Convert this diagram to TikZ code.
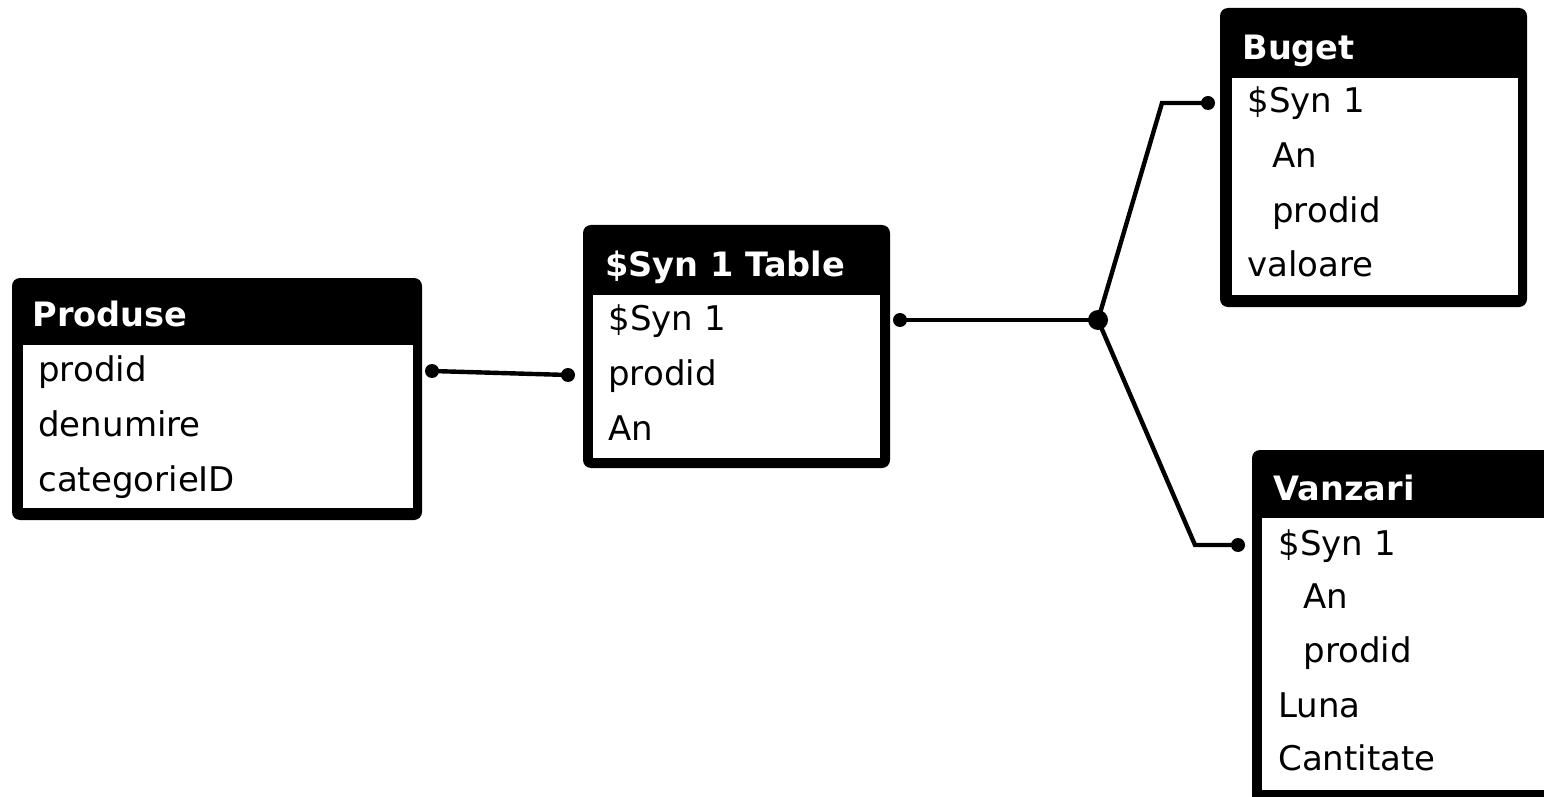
\documentclass[tikz,border=0pt]{standalone}
\usepackage{fontspec}
\setmainfont{DejaVu Sans}
\begin{document}
\begin{tikzpicture}[x=0.5pt,y=-0.5pt,
  tbl/.style={fill=black, rounded corners=4pt},
  inbox/.style={fill=white},
  hdr/.style={anchor=base west, text=white, font=\fontsize{16.8}{16.8}\selectfont\bfseries, inner sep=0pt},
  row/.style={anchor=base west, font=\fontsize{17}{17}\selectfont, inner sep=0pt},
  conn/.style={line width=2.2pt},
  dotc/.style={circle, fill=black, inner sep=0pt, minimum size=7pt},
  junc/.style={circle, fill=black, inner sep=0pt, minimum size=10pt}]
\clip (0,0) rectangle (1544,797);
\fill[white] (0,0) rectangle (1544,797);
% Produse
\fill[tbl] (12,278) rectangle (422,520);
\fill[inbox] (23,345) rectangle (413,508);
\node[hdr] (produseH) at (32,327) {Produse};
\node[row] (produse1) at (38,381) {prodid};
\node[row] (produse2) at (38,436) {denumire};
\node[row] (produse3) at (38,491) {categorieID};
% $Syn 1 Table
\fill[tbl] (583,225) rectangle (890,468);
\fill[inbox] (593,295) rectangle (880,458);
\node[hdr] (synH) at (605,277) {\$Syn 1 Table};
\node[row] (syn1) at (608,330) {\$Syn 1};
\node[row] (syn2) at (608,385) {prodid};
\node[row] (syn3) at (608,440) {An};
% Buget
\fill[tbl] (1220,8) rectangle (1527,307);
\fill[inbox] (1232,78) rectangle (1518,295);
\node[hdr] (bugetH) at (1242,60) {Buget};
\node[row] (buget1) at (1247,113) {\$Syn 1};
\node[row] (buget2) at (1272,168) {An};
\node[row] (buget3) at (1272,222) {prodid};
\node[row] (buget4) at (1247,277) {valoare};
% Vanzari
\fill[tbl] (1252,450) rectangle (1570,820);
\fill[inbox] (1262,518) rectangle (1570,790);
\node[hdr] (vanzariH) at (1273,500) {Vanzari};
\node[row] (vanzari1) at (1278,555) {\$Syn 1};
\node[row] (vanzari2) at (1303,608) {An};
\node[row] (vanzari3) at (1303,662) {prodid};
\node[row] (vanzari4) at (1278,717) {Luna};
\node[row] (vanzari5) at (1278,770) {Cantitate};
% connectors
\node[dotc] (dP) at (432,371) {};
\node[dotc] (dS1) at (568,375) {};
\node[dotc] (dS2) at (900,320) {};
\node[junc] (J) at (1098,320) {};
\coordinate (b1) at (1162,103);
\node[dotc] (dB) at (1208,103) {};
\coordinate (b2) at (1195,545);
\node[dotc] (dV) at (1238,545) {};
\draw[conn] (dP.center) -- (dS1.center);
\draw[conn] (dS2.center) -- (J.center);
\draw[conn] (J.center) -- (b1) -- (dB.center);
\draw[conn] (J.center) -- (b2) -- (dV.center);
\end{tikzpicture}
\end{document}
